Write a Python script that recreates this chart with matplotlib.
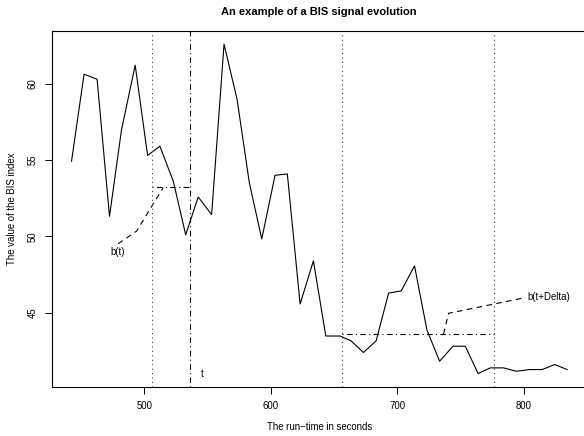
import numpy as np
from matplotlib import pyplot as plt

# BIS signal
times = [442.6, 452.5, 462.8, 472.6, 482.1, 492.9, 502.7, 512.4, 523.0, 532.8,
         542.7, 553.3, 563.1, 573.4, 583.1, 592.9, 603.4, 613.1, 623.2, 633.7,
         643.5, 654.8, 663.3, 673.3, 683.3, 693.1, 703.1, 713.6, 723.4, 733.4,
         744.0, 753.7, 763.8, 773.5, 784.0, 794.0, 804.6, 814.4, 824.4, 834.2]
bis = [54.93, 60.64, 60.31, 51.32, 57.00, 61.23, 55.31, 55.92, 53.62, 50.11,
       52.59, 51.43, 62.61, 58.99, 53.51, 49.83, 54.01, 54.10, 45.57, 48.40,
       43.47, 43.47, 43.16, 42.39, 43.16, 46.28, 46.43, 48.07, 43.86, 41.82,
       42.80, 42.80, 41.01, 41.38, 41.38, 41.16, 41.27, 41.27, 41.60, 41.27]

t_now = 536
window_before = (506, 536)
window_after = (656, 776)

# dashed trend curves
bt_times = [479.4, 494.0, 515.0]
bt_vals = [49.52, 50.35, 53.2]
btd_times = [736.5, 740.5, 801.2]
btd_vals = [43.6, 44.96, 45.99]

x_ticks = [500, 600, 700, 800]
y_ticks = [45, 50, 55, 60]

plt.rcParams['font.family'] = ['Liberation Sans', 'DejaVu Sans']

fig = plt.figure(figsize=(5.84, 4.36), dpi=100)
ax = fig.add_axes([51.7 / 584, 1 - 386.7 / 436, 535.3 / 584, (386.7 - 31) / 436])

lw = 0.8
fs = 6.9
t = np.array(times)
y = np.array(bis)

ax.plot(t, y, '-', color='black', lw=lw)

# window means
for lo, hi in [window_before, window_after]:
    m = y[(t >= lo) & (t <= hi)].mean()
    ax.plot([lo, hi], [m, m], color='black', lw=lw, linestyle=(0, (1, 3, 5, 3)))

ax.plot(bt_times, bt_vals, color='black', lw=lw, linestyle=(0, (5, 4)))
ax.plot(btd_times, btd_vals, color='black', lw=lw, linestyle=(0, (5, 4)))

for v in [window_before[0], window_after[0], window_after[1]]:
    ax.axvline(v, color='0.25', lw=lw, linestyle=(0, (1, 3)))
ax.axvline(t_now, color='black', lw=lw, linestyle=(0, (1, 3, 5, 3)))

ax.text(479.4, 49.0, 'b(t)', fontsize=fs, ha='center', va='center')
ax.text(803.0, 46.0, 'b(t+Delta)', fontsize=fs, ha='left', va='center')
ax.text(546.0, 40.95, 't', fontsize=fs, ha='center', va='center')

# R style limits: 4% extension of the data range
xr = max(times) - min(times)
yr = max(bis) - min(bis)
ax.set_xlim(min(times) - 0.04 * xr, max(times) + 0.04 * xr)
ax.set_ylim(min(bis) - 0.04 * yr, max(bis) + 0.04 * yr)

ax.set_xticks(x_ticks)
ax.set_yticks(y_ticks)
ax.tick_params(direction='out', length=5, width=0.7, labelsize=fs, pad=5)
for lbl in ax.get_yticklabels():
    lbl.set_rotation(90)
    lbl.set_va('center')
for s in ax.spines.values():
    s.set_linewidth(0.8)

ax.set_xlabel('The run\u2212time in seconds', fontsize=fs, labelpad=8)
ax.set_ylabel('The value of the BIS index', fontsize=fs, labelpad=8)
fig.suptitle('An example of a BIS signal evolution', fontsize=8,
             fontweight='bold', x=319 / 584, y=1 - 12 / 436, va='center')

fig.savefig('out.png', dpi=100)
